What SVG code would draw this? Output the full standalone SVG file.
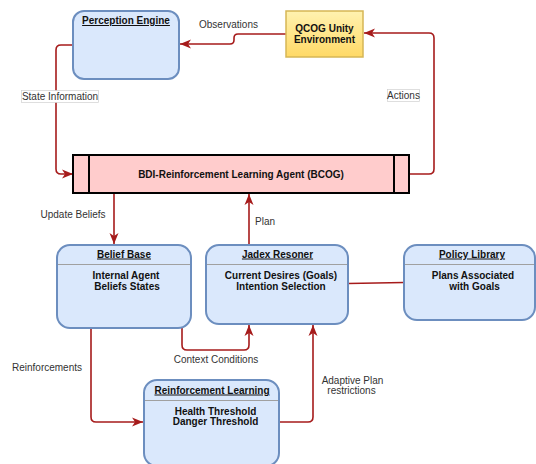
<svg xmlns="http://www.w3.org/2000/svg" width="536" height="464" viewBox="0 0 536 464">
<style>
text{font-family:"Liberation Sans",Arial,sans-serif;font-size:10px;text-anchor:middle}
.b{font-weight:bold;fill:#111}
.t{font-weight:bold;text-decoration:underline;fill:#111}
.l{fill:#333}
.node{fill:#dae8fc;stroke:#6c8ebf;stroke-width:2}
.sep{stroke:#a0a0a0;stroke-width:1}
.e{fill:none;stroke:#a61b1b;stroke-width:1.6}
.lb{fill:#fff;stroke:#d0d0d0;stroke-width:0.7}
</style>
<defs>
<linearGradient id="yg" x1="0" y1="0" x2="0" y2="1">
<stop offset="0" stop-color="#fff2b0"/>
<stop offset="1" stop-color="#ffd966"/>
</linearGradient>
<marker id="arr" markerUnits="userSpaceOnUse" markerWidth="12" markerHeight="10" viewBox="0 0 12 10" refX="11" refY="5" orient="auto">
<path d="M0,0.5 L11,5 L0,9.5 L3,5 Z" fill="#a61b1b"/>
</marker>
</defs>

<g id="connectors">
<path class="e" d="M286,34 H238 Q234,34 234,38 V40 Q234,44 230,44 H180" marker-end="url(#arr)"/>
<path class="e" d="M73,45 H61 Q56,45 56,50 V169 Q56,174 61,174 H73" marker-end="url(#arr)"/>
<path class="e" d="M409,174 H429 Q434,174 434,169 V38 Q434,33 429,33 H364" marker-end="url(#arr)"/>
<path class="e" d="M114,193 V244" marker-end="url(#arr)"/>
<path class="e" d="M249,244 V194" marker-end="url(#arr)"/>
<path class="e" d="M348,283.5 L404,282.5"/>
<path class="e" d="M91,328 V417 Q91,422 96,422 H143" marker-end="url(#arr)"/>
<path class="e" d="M182,328 V345 Q182,350 187,350 H244 Q249,350 249,345 V325" marker-end="url(#arr)"/>
<path class="e" d="M280,422 H308 Q313,422 313,417 V325" marker-end="url(#arr)"/>
<text class="l" x="228.5" y="28">Observations</text>
<rect class="lb" x="21.5" y="90.5" width="77" height="12"/>
<text class="l" x="60" y="100">State Information</text>
<rect class="lb" x="387.5" y="89.5" width="32" height="12"/>
<text class="l" x="403.5" y="98.5">Actions</text>
<text class="l" x="73" y="217.5">Update Beliefs</text>
<text class="l" x="255" y="225" style="text-anchor:start">Plan</text>
<text class="l" x="47" y="371">Reinforcements</text>
<text class="l" x="216" y="363">Context Conditions</text>
<text class="l" x="352.5" y="384">Adaptive Plan</text>
<text class="l" x="351.5" y="394">restrictions</text>
</g>

<g id="perception">
<rect class="node" x="73" y="11" width="106" height="68" rx="11"/>
<text class="t" x="126" y="24">Perception Engine</text>
</g>

<g id="qcog">
<rect x="286" y="11" width="77" height="46" fill="url(#yg)" stroke="#d6b656" stroke-width="1.5"/>
<text class="b" x="324.5" y="32">QCOG Unity</text>
<text class="b" x="324.5" y="42.5">Environment</text>
</g>

<g id="bcog">
<rect x="73" y="155" width="336" height="38" fill="#ffcccc" stroke="#000" stroke-width="2"/>
<line x1="89" y1="155" x2="89" y2="193" stroke="#000" stroke-width="2"/>
<line x1="394" y1="155" x2="394" y2="193" stroke="#000" stroke-width="2"/>
<text class="b" x="241" y="177.5">BDI-Reinforcement Learning Agent (BCOG)</text>
</g>

<g id="belief">
<rect class="node" x="57" y="245" width="134" height="83" rx="13"/>
<line class="sep" x1="58" y1="264.5" x2="190" y2="264.5"/>
<text class="t" x="124" y="257.5">Belief Base</text>
<text class="b" x="126" y="279">Internal Agent</text>
<text class="b" x="127" y="289.5">Beliefs States</text>
</g>

<g id="jadex">
<rect class="node" x="206" y="245" width="142" height="79" rx="13"/>
<line class="sep" x1="207" y1="264.5" x2="347" y2="264.5"/>
<text class="t" x="277.5" y="257.5">Jadex Resoner</text>
<text class="b" x="281" y="279">Current Desires (Goals)</text>
<text class="b" x="281" y="289.5">Intention Selection</text>
</g>

<g id="policy">
<rect class="node" x="404" y="245" width="131" height="75" rx="13"/>
<line class="sep" x1="405" y1="264.5" x2="534" y2="264.5"/>
<text class="t" x="472" y="257.5">Policy Library</text>
<text class="b" x="473" y="279">Plans Associated</text>
<text class="b" x="474.5" y="289.5">with Goals</text>
</g>

<g id="rl">
<rect class="node" x="144" y="380" width="135" height="86" rx="13"/>
<line class="sep" x1="145" y1="400.5" x2="278" y2="400.5"/>
<text class="t" x="212" y="393.5">Reinforcement Learning</text>
<text class="b" x="215.5" y="414.5">Health Threshold</text>
<text class="b" x="215.5" y="425">Danger Threshold</text>
</g>
</svg>
